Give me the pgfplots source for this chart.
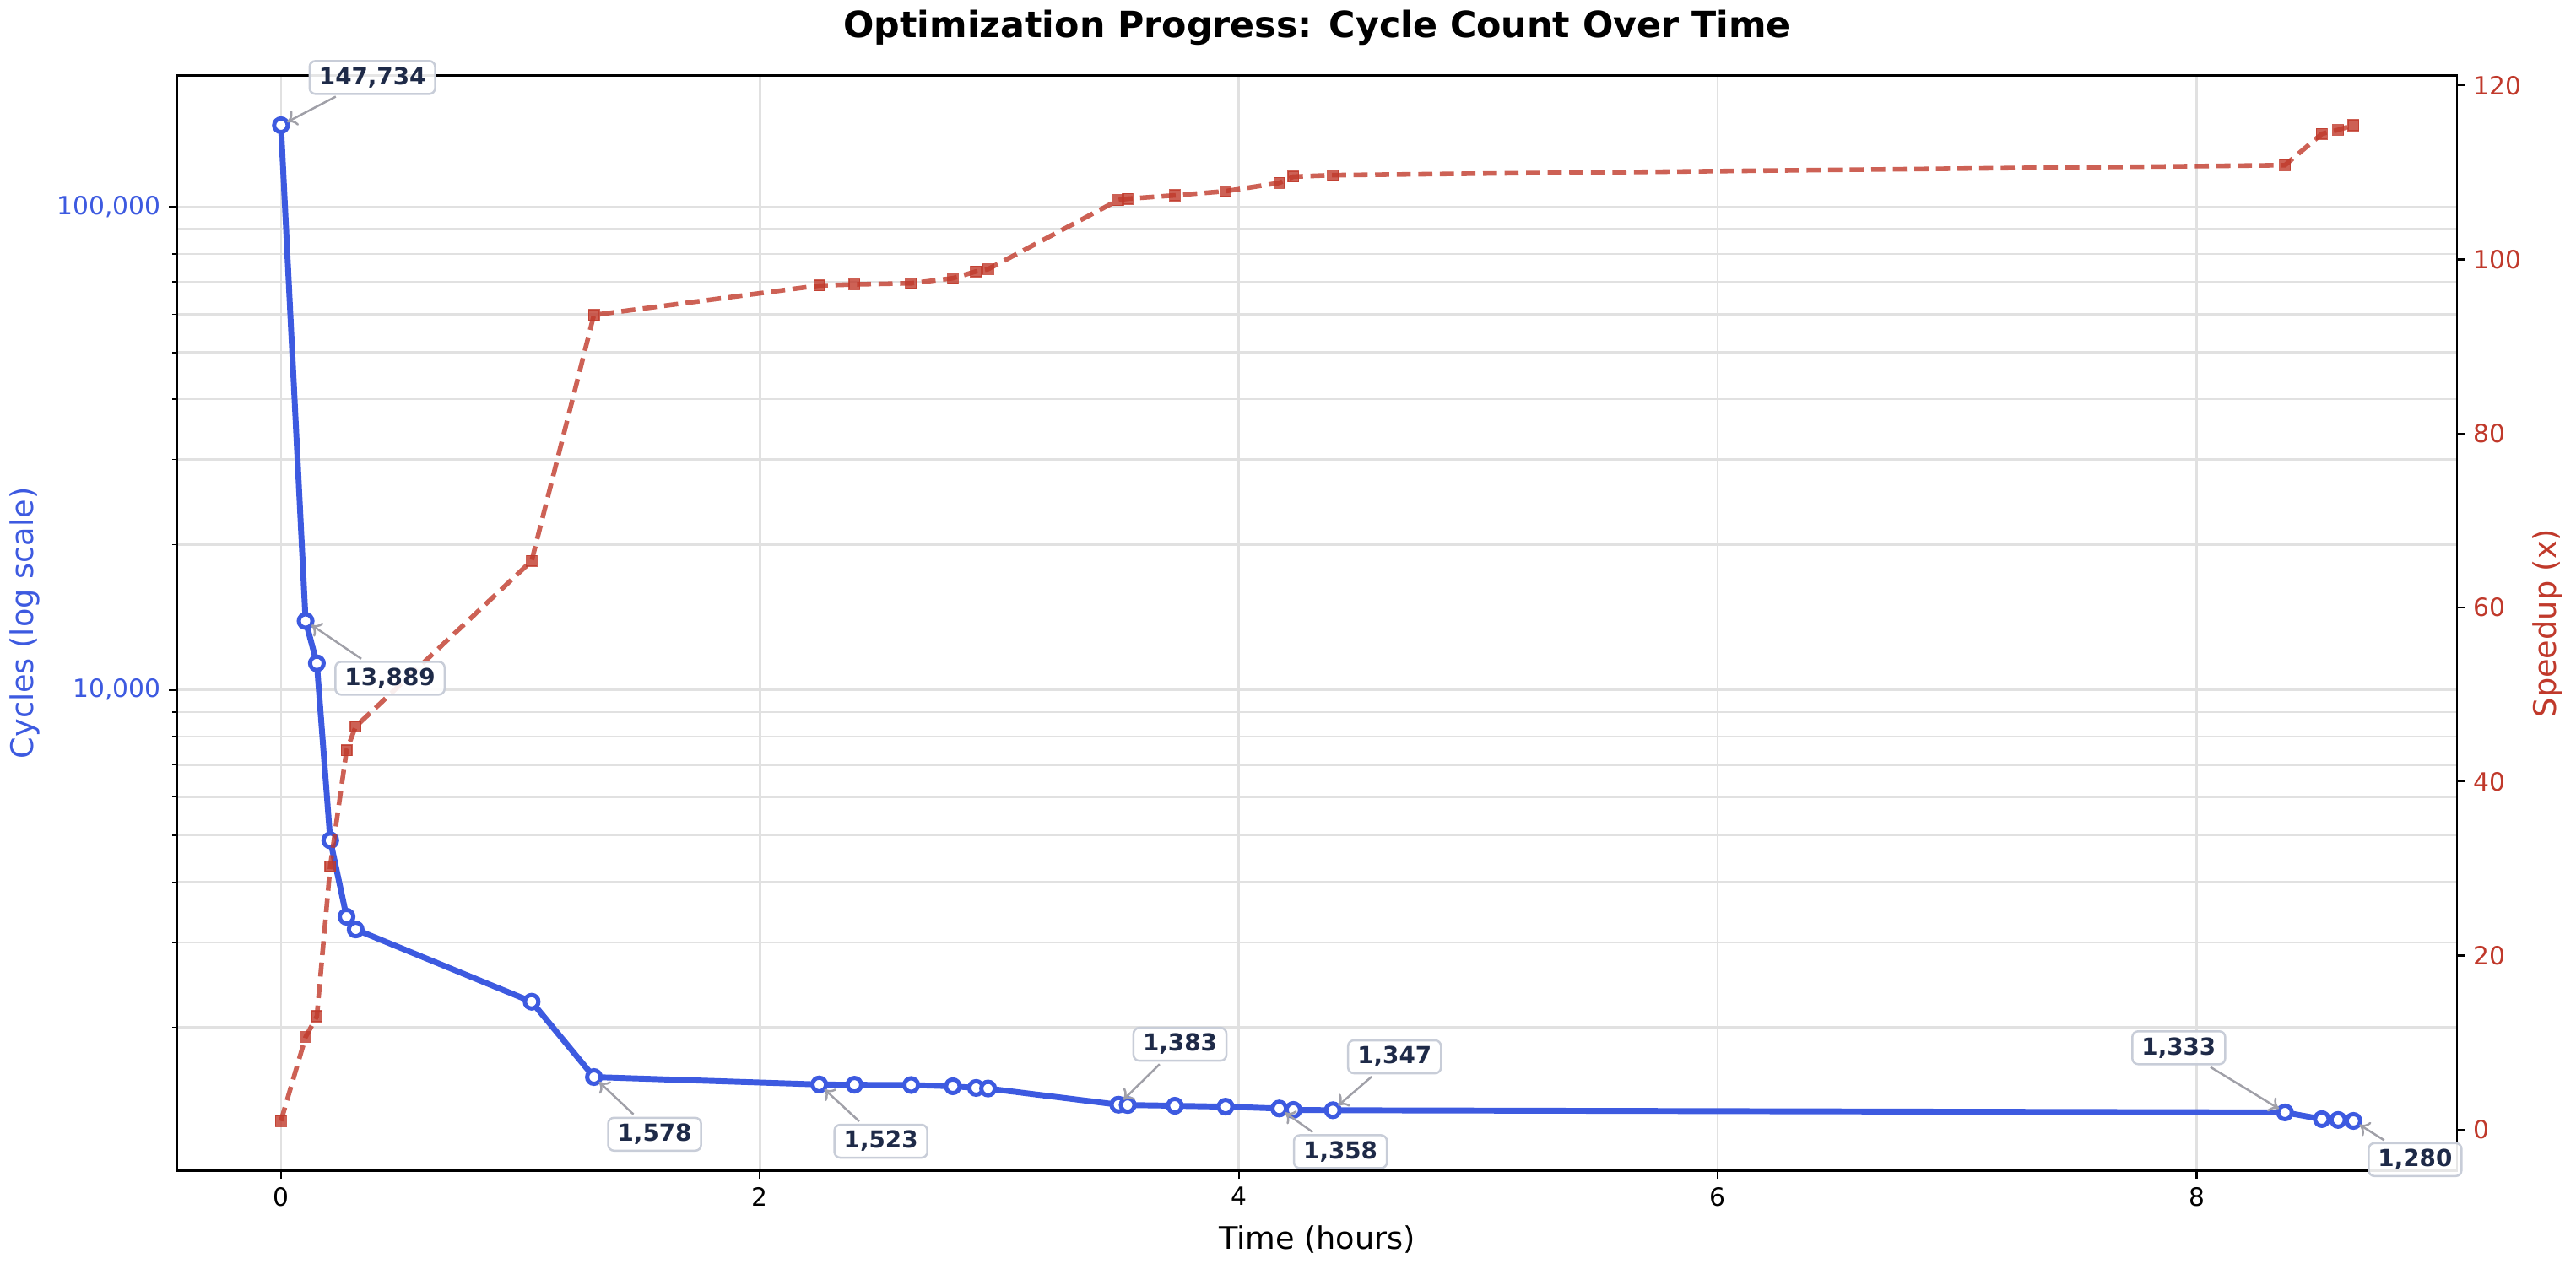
\documentclass[border=0pt]{standalone}
\usepackage{fontspec}
\setmainfont{DejaVu Sans}
\usepackage{pgfplots}
\pgfplotsset{compat=1.18}
\usetikzlibrary{calc,arrows.meta}

\definecolor{cycblue}{RGB}{61,90,224}
\definecolor{spdred}{RGB}{192,57,43}
\definecolor{annotext}{RGB}{30,42,72}
\definecolor{annoedge}{RGB}{200,205,216}
\definecolor{gridgray}{RGB}{225,225,225}
\definecolor{arrgray}{RGB}{160,160,168}

\pgfplotsset{
  twin/.style={
    at={(0,0)}, anchor=south west,
    scale only axis, width=972.4pt, height=467.3pt,
    xmin=-0.433, xmax=9.088,
    tick align=outside,
    major tick length=3.5pt, minor tick length=2pt,
    every tick/.style={black, line width=0.8pt},
    minor tick style={black, line width=0.6pt},
    axis line style={line width=0.9pt},
    tick label style={font=\fontsize{10.7}{12}\selectfont},
    /pgf/number format/assume math mode=true,
    label style={font=\fontsize{13.2}{15}\selectfont},
  },
}

\begin{document}
\begin{tikzpicture}
\useasboundingbox (-75.6pt,-41.9pt) rectangle (1023.1pt,499.5pt);

\begin{axis}[
  twin,
  ymode=log, ymin=1009.5, ymax=187400,
  xtick={0,2,4,6,8},
  ytick={10000,100000}, yticklabels={{10,000},{100,000}},
  minor ytick={2000,3000,4000,5000,6000,7000,8000,9000,20000,30000,40000,50000,60000,70000,80000,90000},
  xtick pos=bottom, ytick pos=left,
  yticklabel style={text=cycblue},
  grid=both,
  major grid style={gridgray, line width=0.9pt},
  minor grid style={gridgray, line width=0.9pt},
  title={Optimization Progress: Cycle Count Over Time},
  title style={at={(axis description cs:0.5,1)}, anchor=center, yshift=14.5pt,
    font=\fontsize{15.4}{18}\selectfont\bfseries},
  xlabel={Time (hours)},
  x label style={at={(axis description cs:0.5,0)}, anchor=center, yshift=-29.5pt},
  ylabel={Cycles (log scale)},
  y label style={at={(axis description cs:0,0.5)}, anchor=center, yshift=65pt, text=cycblue},
]
\addplot[cycblue, line width=2.5pt, mark=*, mark size=2.9pt,
  mark options={fill=white, draw=cycblue, line width=1.8pt}]
  coordinates {
  (0.000,147734) (0.103,13889) (0.150,11350) (0.206,4880) (0.274,3390)
  (0.312,3190) (1.047,2260) (1.307,1578) (2.248,1523) (2.395,1521)
  (2.632,1519) (2.806,1510) (2.903,1498) (2.953,1494) (3.497,1383)
  (3.536,1381) (3.733,1376) (3.945,1370) (4.169,1358) (4.228,1349)
  (4.393,1347) (8.369,1333) (8.523,1291) (8.591,1286) (8.655,1280)
  };
\coordinate (a1) at (axis cs:0.000,147734);
\coordinate (a2) at (axis cs:0.103,13889);
\coordinate (a3) at (axis cs:1.307,1578);
\coordinate (a4) at (axis cs:2.248,1523);
\coordinate (a5) at (axis cs:3.497,1383);
\coordinate (a6) at (axis cs:4.169,1358);
\coordinate (a7) at (axis cs:4.393,1347);
\coordinate (a8) at (axis cs:8.369,1333);
\coordinate (a9) at (axis cs:8.655,1280);
\end{axis}

\begin{axis}[
  twin,
  ymin=-4.72, ymax=121.14,
  axis x line=none, axis y line*=right,
  ytick={0,20,40,60,80,100,120},
  yticklabel style={text=spdred},
  ylabel={Speedup (x)},
  y label style={at={(axis description cs:1,0.5)}, anchor=center, yshift=-38.5pt, text=spdred},
]
\addplot[spdred, opacity=0.8, line width=2pt, dash pattern=on 6pt off 3.2pt,
  mark=square*, mark size=2.3pt,
  mark options={solid, fill=spdred, draw=spdred, line width=0.5pt}]
  coordinates {
  (0.000,1.00) (0.103,10.64) (0.150,13.02) (0.206,30.27) (0.274,43.58)
  (0.312,46.31) (1.047,65.37) (1.307,93.62) (2.248,97.00) (2.395,97.13)
  (2.632,97.26) (2.806,97.84) (2.903,98.62) (2.953,98.88) (3.497,106.82)
  (3.536,106.97) (3.733,107.36) (3.945,107.84) (4.169,108.79) (4.228,109.51)
  (4.393,109.68) (8.369,110.83) (8.523,114.43) (8.591,114.88) (8.655,115.42)
  };
\end{axis}

\tikzset{
  ann/.style={draw=annoedge, fill=white, fill opacity=0.9, text opacity=1,
    rounded corners=2.5pt, line width=0.9pt, inner xsep=4pt, inner ysep=2.6pt,
    text=annotext, font=\fontsize{10}{12}\selectfont\bfseries},
  annarr/.style={-{To[length=4pt,width=7pt]}, draw=arrgray, line width=0.9pt,
    shorten >=3pt, shorten <=1.5pt},
}
\foreach \p/\dx/\dy/\t in {
  a1/39/20.4/{147,734}, a2/36/-24.4/{13,889}, a3/25.9/-24.4/{1,578},
  a4/26.3/-24.2/{1,523}, a5/26.3/25.8/{1,383}, a6/26.1/-18.4/{1,358},
  a7/26.3/22.8/{1,347}, a8/-45.3/27.6/{1,333}, a9/26.3/-16.5/{1,280}} {
  \node[ann] (t\p) at ($(\p)+(\dx pt,\dy pt)$) {\t};
  \draw[annarr] (t\p) -- (\p);
}
\end{tikzpicture}
\end{document}
